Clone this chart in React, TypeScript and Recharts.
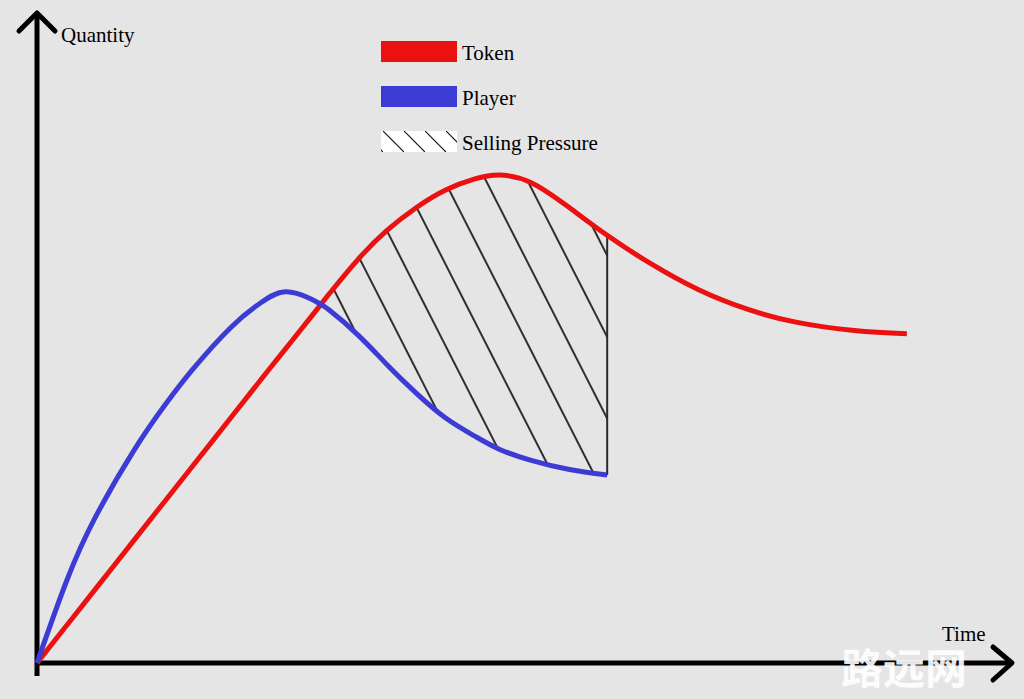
import { ComposedChart, Line, Area, XAxis, YAxis, ReferenceLine } from 'recharts';

// values (time, quantity in 0..100 units)
const times = [0, 3, 6, 10, 13, 16, 20, 23, 25.5, 28, 29, 30, 33, 36, 39, 42, 45, 47.5, 50.7, 54.6, 58.6, 63, 68, 73, 78, 84, 89.4];
const token = [0, 5.7, 11.4, 19.0, 24.7, 30.4, 38.0, 43.7, 48.4, 53.1, 55.0, 56.9, 62.3, 66.8, 70.3, 73.0, 74.7, 75.3, 74.2, 70.4, 66.0, 61.7, 57.6, 54.6, 52.6, 51.3, 50.8];
const player = [0, 12.5, 22.5, 32.9, 39.5, 45.3, 51.9, 55.6, 57.3, 56.3, 55.5, 54.5, 50.6, 46.0, 41.6, 37.8, 35.0, 33.0, 31.3, 29.9, 29.0];

const PRESSURE_FROM = 29;
const PRESSURE_TO = 58.6;

const legendItems = ['Token', 'Player', 'Selling Pressure'];

const RED = '#EC1111';
const BLUE = '#3C3CD5';
const FONT = '"Liberation Serif", "Times New Roman", serif';

const data = times.map((t, i) => ({
  t,
  token: token[i],
  player: i < player.length ? player[i] : undefined,
  pressure: t >= PRESSURE_FROM && t <= PRESSURE_TO ? [player[i], token[i]] : undefined,
}));

const endIdx = times.indexOf(PRESSURE_TO);

const XAxisArrow = (p: any) => {
  const y = p.y1;
  const left = Math.min(p.x1, p.x2) - 2;
  const right = Math.max(p.x1, p.x2) + 2;
  return (
    <g>
      <line x1={left} y1={y} x2={right} y2={y} stroke="#000" strokeWidth={5} />
      <polyline
        points={`${right - 19},${y - 16} ${right},${y} ${right - 19},${y + 17}`}
        fill="none"
        stroke="#000"
        strokeWidth={5}
        strokeLinecap="round"
        strokeLinejoin="round"
      />
      <text x={right - 70} y={y - 22} fontFamily={FONT} fontSize={21} fill="#000">Time</text>
    </g>
  );
};

const YAxisArrow = (p: any) => {
  const x = p.x1;
  const top = Math.min(p.y1, p.y2) - 2;
  const bottom = Math.max(p.y1, p.y2) + 13;
  return (
    <g>
      <line x1={x} y1={top} x2={x} y2={bottom} stroke="#000" strokeWidth={5} />
      <polyline
        points={`${x - 18},${top + 18} ${x},${top} ${x + 18},${top + 18}`}
        fill="none"
        stroke="#000"
        strokeWidth={5}
        strokeLinecap="round"
        strokeLinejoin="round"
      />
      <text x={x + 24} y={top + 29} fontFamily={FONT} fontSize={21} fill="#000">Quantity</text>
    </g>
  );
};

function Swatch({ kind }: { kind: number }) {
  if (kind === 2) {
    return (
      <svg width={76} height={21} style={{ display: 'block' }}>
        <defs>
          <pattern id="legendHatch" patternUnits="userSpaceOnUse" width={21} height={21} x={2} y={0}>
            <line x1={0} y1={0} x2={21} y2={21} stroke="#111" strokeWidth={1.2} />
          </pattern>
        </defs>
        <rect width={76} height={21} fill="#fff" />
        <rect width={76} height={21} fill="url(#legendHatch)" />
      </svg>
    );
  }
  return <div style={{ width: 76, height: 21, background: kind === 0 ? RED : BLUE }} />;
}

export default function App() {
  return (
    <div style={{ position: 'absolute', left: 0, top: 0, width: 1024, height: 699, background: '#E5E5E5' }}>
      <ComposedChart width={1024} height={699} data={data} margin={{ top: 15, right: 14, bottom: 36, left: 37 }}>
        <defs>
          <pattern id="hatch" patternUnits="userSpaceOnUse" width={37} height={10} patternTransform="rotate(-27)">
            <line x1={18} y1={-1} x2={18} y2={11} stroke="#1a1a1a" strokeWidth={1.8} />
          </pattern>
        </defs>
        <XAxis dataKey="t" type="number" domain={[0, 100]} hide />
        <YAxis type="number" domain={[0, 100]} hide />
        <Area
          dataKey="pressure"
          type="natural"
          fill="url(#hatch)"
          fillOpacity={1}
          stroke="none"
          isAnimationActive={false}
        />
        <ReferenceLine
          segment={[
            { x: times[endIdx], y: player[endIdx] },
            { x: times[endIdx], y: token[endIdx] },
          ]}
          stroke="#2a2a2a"
          strokeWidth={2}
        />
        <ReferenceLine y={0} shape={XAxisArrow} />
        <ReferenceLine x={0} shape={YAxisArrow} />
        <Line dataKey="token" type="natural" stroke={RED} strokeWidth={5} dot={false} isAnimationActive={false} />
        <Line dataKey="player" type="natural" stroke={BLUE} strokeWidth={5} dot={false} isAnimationActive={false} />
      </ComposedChart>

      <div style={{ position: 'absolute', left: 381, top: 41, fontFamily: FONT, fontSize: 21, color: '#000' }}>
        {legendItems.map((name, i) => (
          <div key={name} style={{ display: 'flex', alignItems: 'center', height: 21, marginBottom: 24 }}>
            <Swatch kind={i} />
            <span style={{ marginLeft: 5, lineHeight: '21px', position: 'relative', top: 2 }}>{name}</span>
          </div>
        ))}
      </div>

      <div
        style={{
          position: 'absolute',
          left: 841,
          top: 645,
          fontFamily: '"Noto Sans CJK SC", sans-serif',
          fontWeight: 700,
          fontSize: 42,
          lineHeight: 1,
          color: '#fff',
          opacity: 0.9,
        }}
      >
        路远网
      </div>
    </div>
  );
}
